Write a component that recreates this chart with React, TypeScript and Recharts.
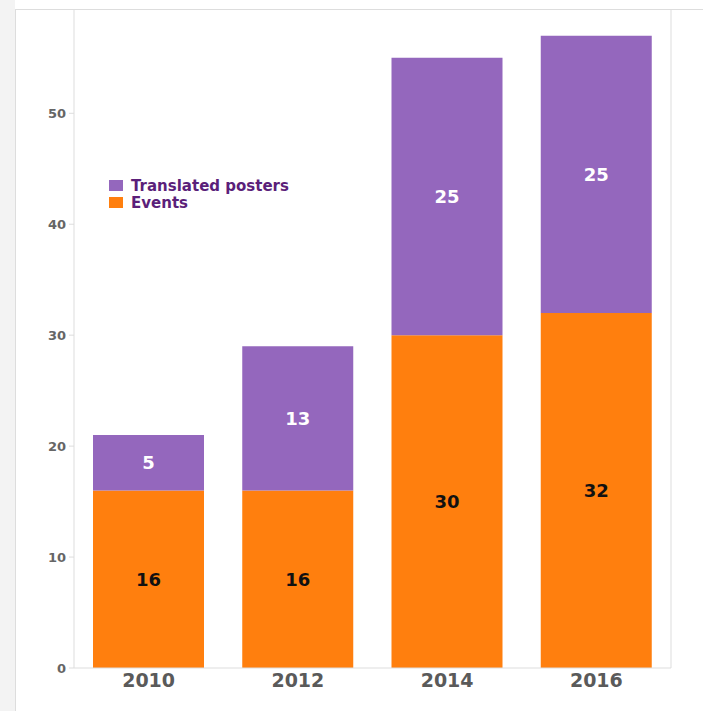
import React from "react";
import {
  BarChart,
  Bar,
  XAxis,
  YAxis,
  LabelList,
} from "recharts";

const years = ["2010", "2012", "2014", "2016"];
const events = [16, 16, 30, 32];
const posters = [5, 13, 25, 25];
const yTicks = [0, 10, 20, 30, 40, 50];
const edgeTicks = [0, 1, 2, 3, 4];

const data = years.map((year, i) => ({
  year,
  idx: i + 0.5,
  events: events[i],
  posters: posters[i],
}));

const PURPLE = "#9467bd";
const ORANGE = "#ff7f0e";
const FONT = "'DejaVu Sans', Verdana, sans-serif";

function LegendBox() {
  const items = [
    { label: "Translated posters", color: PURPLE },
    { label: "Events", color: ORANGE },
  ];
  return (
    <div style={{ fontFamily: FONT }}>
      {items.map((it) => (
        <div
          key={it.label}
          style={{ display: "flex", alignItems: "center", height: 17 }}
        >
          <span
            style={{
              display: "inline-block",
              width: 14,
              height: 11,
              background: it.color,
              marginRight: 8,
            }}
          />
          <span style={{ color: "#5b1f7a", fontWeight: 700, fontSize: 15 }}>
            {it.label}
          </span>
        </div>
      ))}
    </div>
  );
}

export default function App() {
  return (
    <div
      style={{
        position: "absolute",
        left: 0,
        top: 0,
        width: 703,
        height: 711,
        background: "#ffffff",
        overflow: "hidden",
      }}
    >
      <div
        style={{
          position: "absolute",
          left: 0,
          top: 0,
          width: 15,
          height: 711,
          background: "#f3f3f3",
        }}
      />
      <div
        style={{
          position: "absolute",
          left: 15,
          top: 9,
          width: 700,
          height: 710,
          borderLeft: "1px solid #dddddd",
          borderTop: "1px solid #dddddd",
        }}
      />
      <div style={{ position: "absolute", left: 0, top: 0 }}>
        <BarChart
          width={703}
          height={711}
          data={data}
          margin={{ top: 9, right: 31, left: 14, bottom: 13 }}
          barSize={111}
        >
          <XAxis
            xAxisId="edges"
            type="number"
            dataKey="idx"
            domain={[0, 4]}
            ticks={edgeTicks}
            tick={false}
            tickSize={4}
            tickLine={{ stroke: "#dddddd" }}
            axisLine={false}
            height={0}
          />
          <XAxis
            dataKey="year"
            axisLine={{ stroke: "#dddddd" }}
            tickLine={false}
            tickSize={0}
            tickMargin={6}
            height={30}
            tick={{
              fill: "#5a5a5a",
              fontSize: 19,
              fontWeight: 700,
              fontFamily: FONT,
            }}
          />
          <YAxis
            domain={[0, 59.4]}
            ticks={yTicks}
            width={60}
            axisLine={{ stroke: "#dddddd" }}
            tickLine={{ stroke: "#dddddd" }}
            tickSize={5}
            tickMargin={3}
            tick={{
              fill: "#666666",
              fontSize: 13,
              fontWeight: 700,
              fontFamily: FONT,
            }}
          />
          <YAxis
            yAxisId="right"
            orientation="right"
            width={1}
            tick={false}
            tickLine={false}
            axisLine={{ stroke: "#dddddd" }}
          />
          <Bar dataKey="events" stackId="a" fill={ORANGE} isAnimationActive={false}>
            <LabelList
              dataKey="events"
              position="center"
              fill="#111111"
              style={{ fontSize: 18, fontWeight: 700, fontFamily: FONT }}
            />
          </Bar>
          <Bar dataKey="posters" stackId="a" fill={PURPLE} isAnimationActive={false}>
            <LabelList
              dataKey="posters"
              position="center"
              fill="#ffffff"
              style={{ fontSize: 18, fontWeight: 700, fontFamily: FONT }}
            />
          </Bar>
        </BarChart>
      </div>
      <div style={{ position: "absolute", left: 109, top: 177 }}>
        <LegendBox />
      </div>
    </div>
  );
}
